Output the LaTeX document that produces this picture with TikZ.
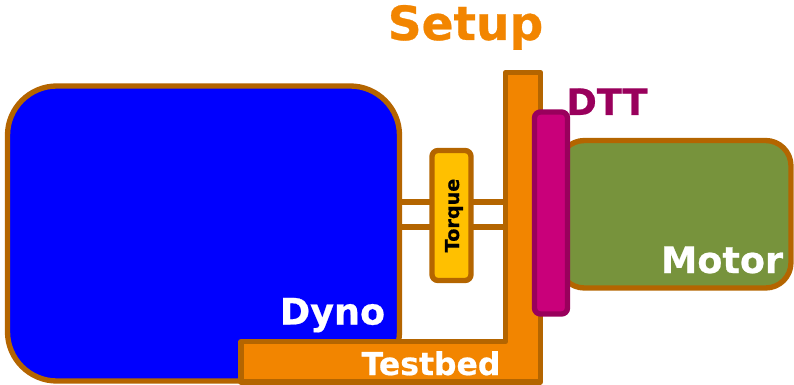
\documentclass[tikz,border=0pt]{standalone}
\usepackage{fontspec}
\setmainfont{DejaVu Sans}[BoldFeatures={FakeBold=0.6}]
\usepackage{tikz}
\usetikzlibrary{positioning}

\definecolor{rimbrown}{HTML}{B46500}
\definecolor{bedorange}{HTML}{F28500}
\definecolor{dynoblue}{HTML}{0000FF}
\definecolor{motorgreen}{HTML}{77933C}
\definecolor{torqueyellow}{HTML}{FFC000}
\definecolor{dttpink}{HTML}{C9007A}
\definecolor{dttdark}{HTML}{99005C}

\tikzset{
    block/.style={draw=rimbrown, line width=4pt, inner sep=0pt, outer sep=0pt},
    shaft/.style={draw=rimbrown, line width=4pt},
    boldlabel/.style={font=\fontsize{#1}{#1}\selectfont\bfseries, inner sep=0pt, anchor=base},
    boldlabel/.default=27.4
}

\begin{document}
\begin{tikzpicture}[x=0.75pt, y=-0.75pt]
\useasboundingbox (0,0) rectangle (794,385);

\node[block, fill=dynoblue, rounded corners=37pt, minimum width=294pt, minimum height=221.25pt] (dyno) at (203.5,233.5) {};

\coordinate (shafttop) at (450,202);
\coordinate (shaftbot) at (450,227);
\coordinate (bedface) at (505.5,215);

\node[block, fill=motorgreen, rounded corners=19pt, minimum width=174pt, minimum height=110.6pt] (motor) at (675,214.25) {};
\draw[block, fill=bedorange, line join=round] (241,341.5) -- (505.5,341.5) -- (505.5,72.5) -- (540.5,72.5) -- (540.5,382) -- (241,382) -- cycle;
\node[block, draw=dttdark, fill=dttpink, rounded corners=4.5pt, minimum width=24.75pt, minimum height=151.5pt] (dtt) at (551,213) {};
\node[block, fill=torqueyellow, rounded corners=4.5pt, minimum width=29.25pt, minimum height=97.5pt] (torque) at (451.5,215.5) {};

\draw[shaft] (dyno.east |- shafttop) -- (torque.west |- shafttop);
\draw[shaft] (dyno.east |- shaftbot) -- (torque.west |- shaftbot);
\draw[shaft] (torque.east |- shafttop) -- (bedface |- shafttop);
\draw[shaft] (torque.east |- shaftbot) -- (bedface |- shaftbot);

\node[boldlabel=35.3, text=bedorange] (setup) at (465.5,40) {Setup};
\node[boldlabel, text=dttdark] (dttlabel) at (607,115) {DTT};
\node[boldlabel, text=white] (dynolabel) at (332.5,324.5) {Dyno};
\node[boldlabel, text=white] (motorlabel) at (722,273) {Motor};
\node[boldlabel=23.6, text=white] (bedlabel) at (431,375) {Testbed};
\node[boldlabel=14.4, rotate=90] (torquelabel) at (459,215.5) {Torque};

\end{tikzpicture}
\end{document}
